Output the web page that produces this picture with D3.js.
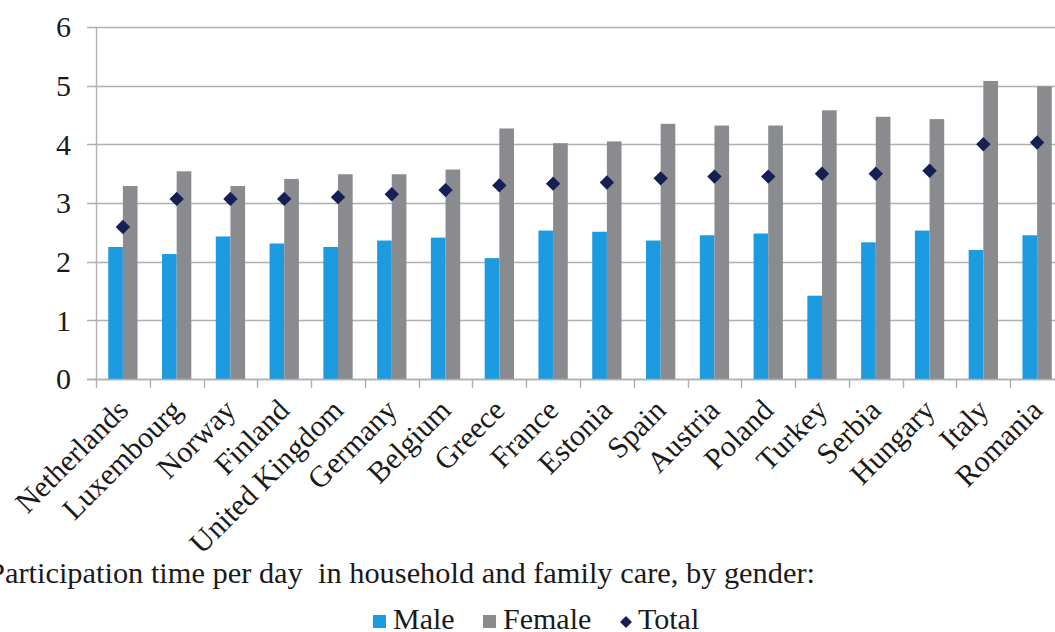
<!DOCTYPE html>
<html>
<head>
<meta charset="utf-8">
<script src="https://cdn.jsdelivr.net/npm/d3@7"></script>
<style>
  html, body { margin: 0; padding: 0; background: #fff; overflow: hidden; }
  svg { display: block; }
</style>
</head>
<body>
<svg id="chart" width="1055" height="632"></svg>
<script>
// Participation time per day in household and family care (hours)
const countries = ["Netherlands", "Luxembourg", "Norway", "Finland", "United Kingdom", "Germany",
  "Belgium", "Greece", "France", "Estonia", "Spain", "Austria", "Poland", "Turkey", "Serbia",
  "Hungary", "Italy", "Romania"];
const male   = [2.25, 2.13, 2.43, 2.31, 2.25, 2.36, 2.41, 2.06, 2.53, 2.51, 2.36, 2.45, 2.48, 1.42, 2.33, 2.53, 2.20, 2.45];
const female = [3.29, 3.54, 3.29, 3.41, 3.49, 3.49, 3.57, 4.27, 4.02, 4.05, 4.35, 4.32, 4.32, 4.58, 4.47, 4.43, 5.08, 4.99];
const total  = [2.59, 3.07, 3.07, 3.07, 3.10, 3.15, 3.22, 3.30, 3.33, 3.35, 3.42, 3.45, 3.45, 3.50, 3.50, 3.55, 4.00, 4.03];
const yTicks = [0, 1, 2, 3, 4, 5, 6];
const seriesNames = ["Male", "Female", "Total"];
const titleText = "Participation time per day  in household and family care, by gender:";

const FONT = "'Liberation Serif', 'Times New Roman', 'DejaVu Serif', serif";
const colors = { Male: "#1c9be0", Female: "#8a8b8e", Total: "#161f55" };
const gridColor = "#b0b0b0";
const textColor = "#1a1a1a";

const svg = d3.select("#chart")
  .attr("font-family", FONT)
  .style("font-family", FONT);
const plot = { left: 96, right: 1064, top: 27, bottom: 379 };

const x = d3.scaleBand().domain(countries).range([plot.left, plot.right])
  .paddingInner(0.455).paddingOuter(0.2275);
const xSub = d3.scaleBand().domain(["Male", "Female"]).range([0, x.bandwidth()]);
const y = d3.scaleLinear().domain([0, 6]).range([plot.bottom, plot.top]);

// horizontal gridlines (extend left as tick marks)
svg.append("g").selectAll("line").data(yTicks).join("line")
  .attr("x1", plot.left - 9).attr("x2", plot.right)
  .attr("y1", d => Math.round(y(d)) + 0.5).attr("y2", d => Math.round(y(d)) + 0.5)
  .attr("stroke", gridColor).attr("stroke-width", 1.4);

// y tick labels
svg.append("g").selectAll("text").data(yTicks).join("text")
  .attr("x", 71).attr("y", d => y(d)).attr("dy", "0.34em")
  .attr("text-anchor", "end").attr("font-size", 30)
  .attr("font-family", FONT).attr("fill", textColor)
  .text(d => d);

// vertical axis line
svg.append("line")
  .attr("x1", plot.left + 0.5).attr("x2", plot.left + 0.5)
  .attr("y1", plot.top).attr("y2", plot.bottom)
  .attr("stroke", gridColor).attr("stroke-width", 1.4);

// category boundary ticks below the baseline
const step = x.step();
const boundaries = d3.range(countries.length + 1).map(i => plot.left + i * step);
svg.append("g").selectAll("line").data(boundaries).join("line")
  .attr("x1", d => Math.round(d) + 0.5).attr("x2", d => Math.round(d) + 0.5)
  .attr("y1", plot.bottom).attr("y2", plot.bottom + 9)
  .attr("stroke", gridColor).attr("stroke-width", 1.4);

// bars
const rows = countries.map((c, i) => ({ country: c, Male: male[i], Female: female[i], Total: total[i] }));
const groups = svg.append("g").selectAll("g").data(rows).join("g")
  .attr("transform", d => `translate(${x(d.country)},0)`);
groups.selectAll("rect").data(d => ["Male", "Female"].map(k => ({ key: k, value: d[k] }))).join("rect")
  .attr("x", d => xSub(d.key)).attr("width", xSub.bandwidth())
  .attr("y", d => y(d.value)).attr("height", d => y(0) - y(d.value))
  .attr("fill", d => colors[d.key]);

// redraw baseline over bar bottoms
svg.append("line")
  .attr("x1", plot.left - 9).attr("x2", plot.right)
  .attr("y1", Math.round(y(0)) + 0.5).attr("y2", Math.round(y(0)) + 0.5)
  .attr("stroke", gridColor).attr("stroke-width", 1.4);

// total markers (diamonds)
const diamond = d3.symbol().type(d3.symbolSquare).size(104);
svg.append("g").selectAll("path").data(rows).join("path")
  .attr("d", diamond)
  .attr("transform", d => `translate(${x(d.country) + x.bandwidth() / 2},${y(d.Total)}) rotate(45)`)
  .attr("fill", colors.Total);

// category labels, rotated
svg.append("g").selectAll("text").data(countries).join("text")
  .attr("transform", d => `translate(${x(d) + x.bandwidth() / 2 + 7},412) rotate(-45)`)
  .attr("text-anchor", "end").attr("font-size", 30)
  .attr("font-family", FONT).attr("fill", textColor)
  .text(d => d);

// caption
svg.append("text")
  .attr("x", -12).attr("y", 583)
  .attr("font-size", 30.4).attr("font-family", FONT).attr("fill", textColor)
  .style("white-space", "pre")
  .text(titleText);

// legend
const legendItems = [
  { name: seriesNames[0], sx: 373, tx: 393 },
  { name: seriesNames[1], sx: 483, tx: 503 },
  { name: seriesNames[2], sx: 619, tx: 638 }
];
const lg = svg.append("g");
legendItems.forEach(it => {
  if (it.name === "Total") {
    lg.append("path")
      .attr("d", d3.symbol().type(d3.symbolSquare).size(72))
      .attr("transform", `translate(${it.sx + 7},622) rotate(45)`)
      .attr("fill", colors.Total);
  } else {
    lg.append("rect").attr("x", it.sx).attr("y", 615).attr("width", 13).attr("height", 13)
      .attr("fill", colors[it.name]);
  }
  lg.append("text").attr("x", it.tx).attr("y", 629).attr("font-size", 30)
    .attr("font-family", FONT).attr("fill", textColor).text(it.name);
});
</script>
</body>
</html>
